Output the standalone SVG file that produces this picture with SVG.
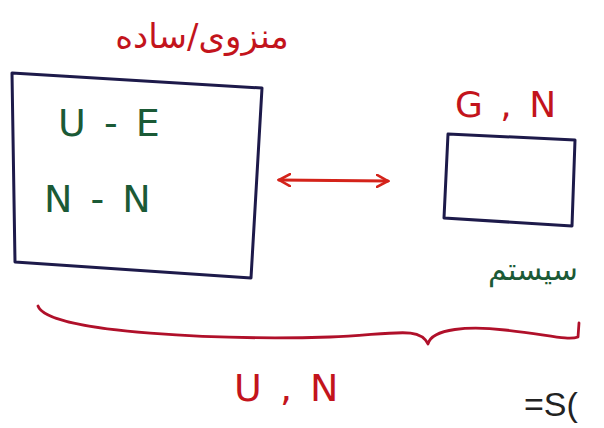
<svg xmlns="http://www.w3.org/2000/svg" width="604" height="428" viewBox="0 0 604 428">
<style>
.box{fill:none;stroke:#1d1a4a;stroke-width:3;stroke-linejoin:round}
.red{fill:#c3141c;font-family:"DejaVu Sans",sans-serif}
.grn{fill:#1b5a36;font-family:"DejaVu Sans",sans-serif}
.con{fill:none;stroke:#d4231a;stroke-width:3;stroke-linecap:round}
.brace{fill:none;stroke:#b0102a;stroke-width:2.8;stroke-linecap:round;stroke-linejoin:round}
</style>
<defs>
<marker id="ah" viewBox="0 0 14 14" refX="12" refY="7" markerWidth="14" markerHeight="14" markerUnits="userSpaceOnUse" orient="auto-start-reverse">
<path d="M1,1 L12,7 L1,13" fill="none" stroke="#d4231a" stroke-width="2.6" stroke-linecap="round"/>
</marker>
</defs>
<rect width="604" height="428" fill="#ffffff"/>
<g id="title">
<text x="202" y="48" class="red" font-size="34" text-anchor="middle">منزوی/ساده</text>
</g>
<g id="reservoir">
<path class="box" d="M12,73 L262,88 L251,278 L15,262 Z"/>
<text x="58" y="136" class="grn" font-size="38" letter-spacing="3">U - E</text>
<text x="44" y="212" class="grn" font-size="38" letter-spacing="3">N - N</text>
</g>
<g id="system">
<text x="455" y="117" class="red" font-size="36" letter-spacing="3">G , N</text>
<path class="box" d="M448,134 L575,140 L572,226 L444,218 Z"/>
<text x="533" y="280" class="grn" font-size="30" text-anchor="middle">سیستم</text>
</g>
<g id="connectors">
<line class="con" x1="279" y1="180" x2="388" y2="181" marker-start="url(#ah)" marker-end="url(#ah)"/>
<path class="brace" d="M38,306 C48,334 230,340 330,337 C395,334 420,326 428,344 C432,328 470,326 505,330 C545,334 568,341 578,337 L579,323"/>
</g>
<g id="total">
<text x="234" y="401" class="red" font-size="38" letter-spacing="3">U , N</text>
</g>
<g id="entropy">
<text x="524" y="416" font-family="Liberation Sans,sans-serif" font-size="34" fill="#222">=S(</text>
</g>
</svg>
